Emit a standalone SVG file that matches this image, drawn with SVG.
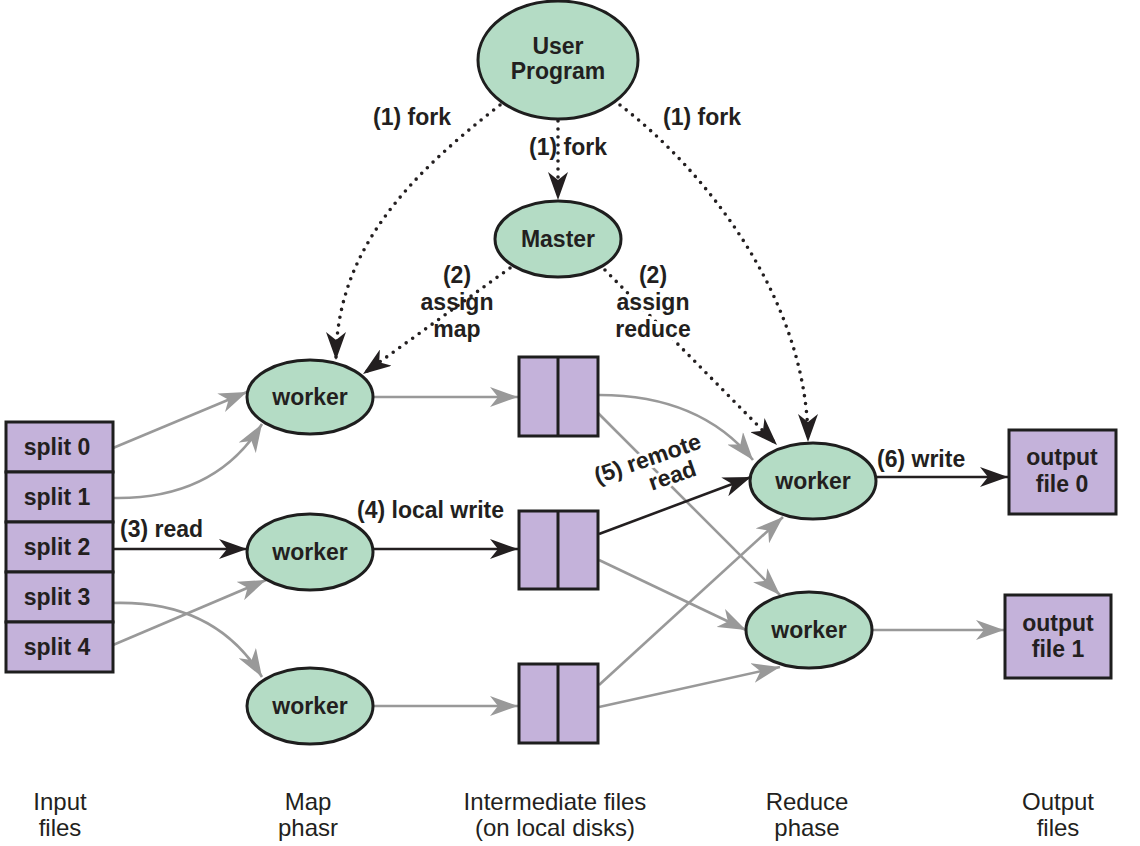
<svg xmlns="http://www.w3.org/2000/svg" width="1140" height="846" viewBox="0 0 1140 846">
<style>
text{font-family:"Liberation Sans",Arial,sans-serif;font-weight:bold;font-size:23px;fill:#231f20;text-anchor:middle}
.l{text-anchor:start}
.node{fill:#b4dcc5;stroke:#1e1e1e;stroke-width:3}
.file{fill:#c4b2da;stroke:#1e1e1e;stroke-width:3}
.div{stroke:#1e1e1e;stroke-width:3}
.g{fill:none;stroke:#999;stroke-width:2.6;marker-end:url(#ag)}
.k{fill:none;stroke:#231f20;stroke-width:2.6;marker-end:url(#ak)}
.d{fill:none;stroke:#231f20;stroke-width:3.6;stroke-linecap:round;stroke-dasharray:0 8;marker-end:url(#ak)}
.halo{stroke:#fff;stroke-width:6;stroke-linejoin:round;paint-order:stroke}
.bot{font-weight:normal;font-size:24px}
</style>
<defs>
<marker id="ak" viewBox="0 0 28 20" refX="28" refY="10" markerWidth="28" markerHeight="20" markerUnits="userSpaceOnUse" orient="auto"><path d="M0,0 L28,10 L0,20 L8,10 Z" fill="#231f20"/></marker>
<marker id="ag" viewBox="0 0 28 20" refX="28" refY="10" markerWidth="28" markerHeight="20" markerUnits="userSpaceOnUse" orient="auto"><path d="M0,0 L28,10 L0,20 L8,10 Z" fill="#999"/></marker>
</defs>
<rect width="1140" height="846" fill="#fff"/>

<g id="connectors">
<path class="d" d="M558,121 L558,200"/>
<path class="d" d="M500,105 C410,175 336,250 336,360"/>
<path class="d" d="M620,105 C705,170 808,300 808,442"/>
<path class="d" d="M510,268 L363,374"/>
<path class="d" d="M605,270 L777,445"/>
<path class="g" d="M113,448 L247,392"/>
<path class="g" d="M113,498 Q215,500 262,424"/>
<path class="k" d="M113,549 L247,549"/>
<path class="g" d="M113,603 Q215,600 262,677"/>
<path class="g" d="M113,645 L266,580"/>
<path class="g" d="M373,397 L518,397"/>
<path class="k" d="M373,549 L518,549"/>
<path class="g" d="M373,706 L518,706"/>
<path class="g" d="M599,395 Q700,395 753,460"/>
<path class="g" d="M598,413 L780,595"/>
<path class="k" d="M599,534 L751,477"/>
<path class="g" d="M599,560 L746,630"/>
<path class="g" d="M599,685 L783,517"/>
<path class="g" d="M599,707 L780,667"/>
<path class="k" d="M876,477 L1008,477"/>
<path class="g" d="M872,630 L1004,630"/>
</g>

<g id="labels">
<text x="412" y="125">(1) fork</text>
<text x="568" y="155">(1) fork</text>
<text x="702" y="125">(1) fork</text>
<text x="457" y="283">(2)</text>
<text x="457" y="310">assign</text>
<text x="457" y="337">map</text>
<text class="halo" x="653" y="283">(2)</text>
<text class="halo" x="653" y="310">assign</text>
<text class="halo" x="653" y="337">reduce</text>
<text class="l" x="120" y="537">(3) read</text>
<text class="l" x="357" y="518">(4) local write</text>
<g transform="rotate(-19 650 466)"><text class="halo" x="650" y="466">(5) remote</text><text class="halo" x="668" y="490">read</text></g>
<text class="l" x="877" y="467">(6) write</text>
</g>

<g id="user-program"><ellipse class="node" cx="558" cy="60" rx="80" ry="59"/><text x="558" y="54">User</text><text x="558" y="79">Program</text></g>
<g id="master"><ellipse class="node" cx="558" cy="239" rx="63" ry="38"/><text x="558" y="247">Master</text></g>

<g id="split0"><rect class="file" x="6" y="422" width="107" height="50"/><text x="57" y="455">split 0</text></g>
<g id="split1"><rect class="file" x="6" y="472" width="107" height="50"/><text x="57" y="505">split 1</text></g>
<g id="split2"><rect class="file" x="6" y="522" width="107" height="50"/><text x="57" y="555">split 2</text></g>
<g id="split3"><rect class="file" x="6" y="572" width="107" height="50"/><text x="57" y="605">split 3</text></g>
<g id="split4"><rect class="file" x="6" y="622" width="107" height="50"/><text x="57" y="655">split 4</text></g>

<g id="map-worker0"><ellipse class="node" cx="310" cy="397" rx="63" ry="37"/><text x="310" y="405">worker</text></g>
<g id="map-worker1"><ellipse class="node" cx="310" cy="552" rx="63" ry="38"/><text x="310" y="560">worker</text></g>
<g id="map-worker2"><ellipse class="node" cx="310" cy="706" rx="63" ry="38"/><text x="310" y="714">worker</text></g>

<g id="inter0"><rect class="file" x="519" y="357" width="79" height="79"/><line class="div" x1="558" y1="357" x2="558" y2="436"/></g>
<g id="inter1"><rect class="file" x="519" y="511" width="79" height="78"/><line class="div" x1="558" y1="511" x2="558" y2="589"/></g>
<g id="inter2"><rect class="file" x="519" y="664" width="79" height="79"/><line class="div" x1="558" y1="664" x2="558" y2="743"/></g>

<g id="reduce-worker0"><ellipse class="node" cx="813" cy="481" rx="63" ry="38"/><text x="813" y="489">worker</text></g>
<g id="reduce-worker1"><ellipse class="node" cx="809" cy="630" rx="63" ry="38"/><text x="809" y="638">worker</text></g>

<g id="output0"><rect class="file" x="1009" y="430" width="107" height="84"/><text x="1062" y="465">output</text><text x="1062" y="492">file 0</text></g>
<g id="output1"><rect class="file" x="1005" y="595" width="106" height="83"/><text x="1058" y="631">output</text><text x="1058" y="657">file 1</text></g>

<g id="phase-labels">
<text class="bot" x="60" y="810">Input</text><text class="bot" x="60" y="836">files</text>
<text class="bot" x="308" y="810">Map</text><text class="bot" x="308" y="836">phasr</text>
<text class="bot" x="555" y="810">Intermediate files</text><text class="bot" x="555" y="836">(on local disks)</text>
<text class="bot" x="807" y="810">Reduce</text><text class="bot" x="807" y="836">phase</text>
<text class="bot" x="1058" y="810">Output</text><text class="bot" x="1058" y="836">files</text>
</g>
</svg>
